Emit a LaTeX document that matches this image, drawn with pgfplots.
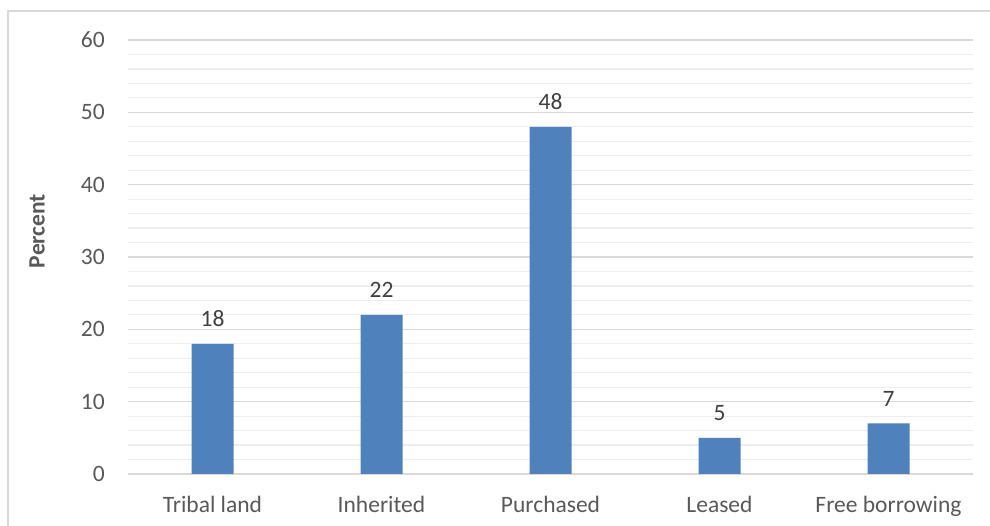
\documentclass[border=0pt]{standalone}
\usepackage{pgfplots}
\pgfplotsset{compat=1.18}
\usepackage{fontspec}
\setmainfont{Carlito}
\definecolor{barblue}{HTML}{4F81BD}
\definecolor{txt}{HTML}{595959}
\definecolor{lbl}{HTML}{404040}
\definecolor{majgrid}{HTML}{D9D9D9}
\definecolor{mingrid}{HTML}{EDEDED}
\definecolor{frame}{HTML}{D9D9D9}

\begin{document}
\begin{tikzpicture}
\useasboundingbox (0pt,0pt) rectangle (990pt,526pt);
% chart frame
\draw[frame, line width=1.5pt] (8pt,-2pt) -- (8pt,515pt) -- (992pt,515pt);
\begin{axis}[
  at={(128pt,52pt)}, anchor=south west,
  scale only axis, width=845pt, height=434pt,
  xmin=-0.5, xmax=4.5, ymin=0, ymax=60,
  ytick={0,10,...,60}, minor y tick num=4,
  ymajorgrids, yminorgrids,
  major grid style={majgrid, line width=1.2pt},
  minor grid style={mingrid, line width=1.2pt},
  axis line style={draw=none},
  major tick length=0pt, minor tick length=0pt,
  tick style={draw=none},
  xtick=data,
  xticklabels={Tribal land, Inherited, Purchased, Leased, Free borrowing},
  /pgf/number format/assume math mode=true,
  tick label style={font=\fontsize{23.5}{28}\selectfont, text=txt},
  yticklabel style={anchor=east, inner sep=0pt, xshift=-23pt},
  xticklabel style={anchor=base, inner sep=0pt, yshift=-39pt},
  ybar, bar width=42pt,
  nodes near coords,
  nodes near coords style={font=\fontsize{23.5}{28}\selectfont, text=lbl, anchor=base, inner sep=0pt, yshift=17pt},
  clip=false,
]
\addplot[fill=barblue, draw=none] coordinates {(0,18) (1,22) (2,48) (3,5) (4,7)};
\end{axis}
\node[rotate=90, font=\fontsize{23.5}{28}\selectfont\bfseries, text=txt] at (37pt,295pt) {Percent};
\end{tikzpicture}
\end{document}
